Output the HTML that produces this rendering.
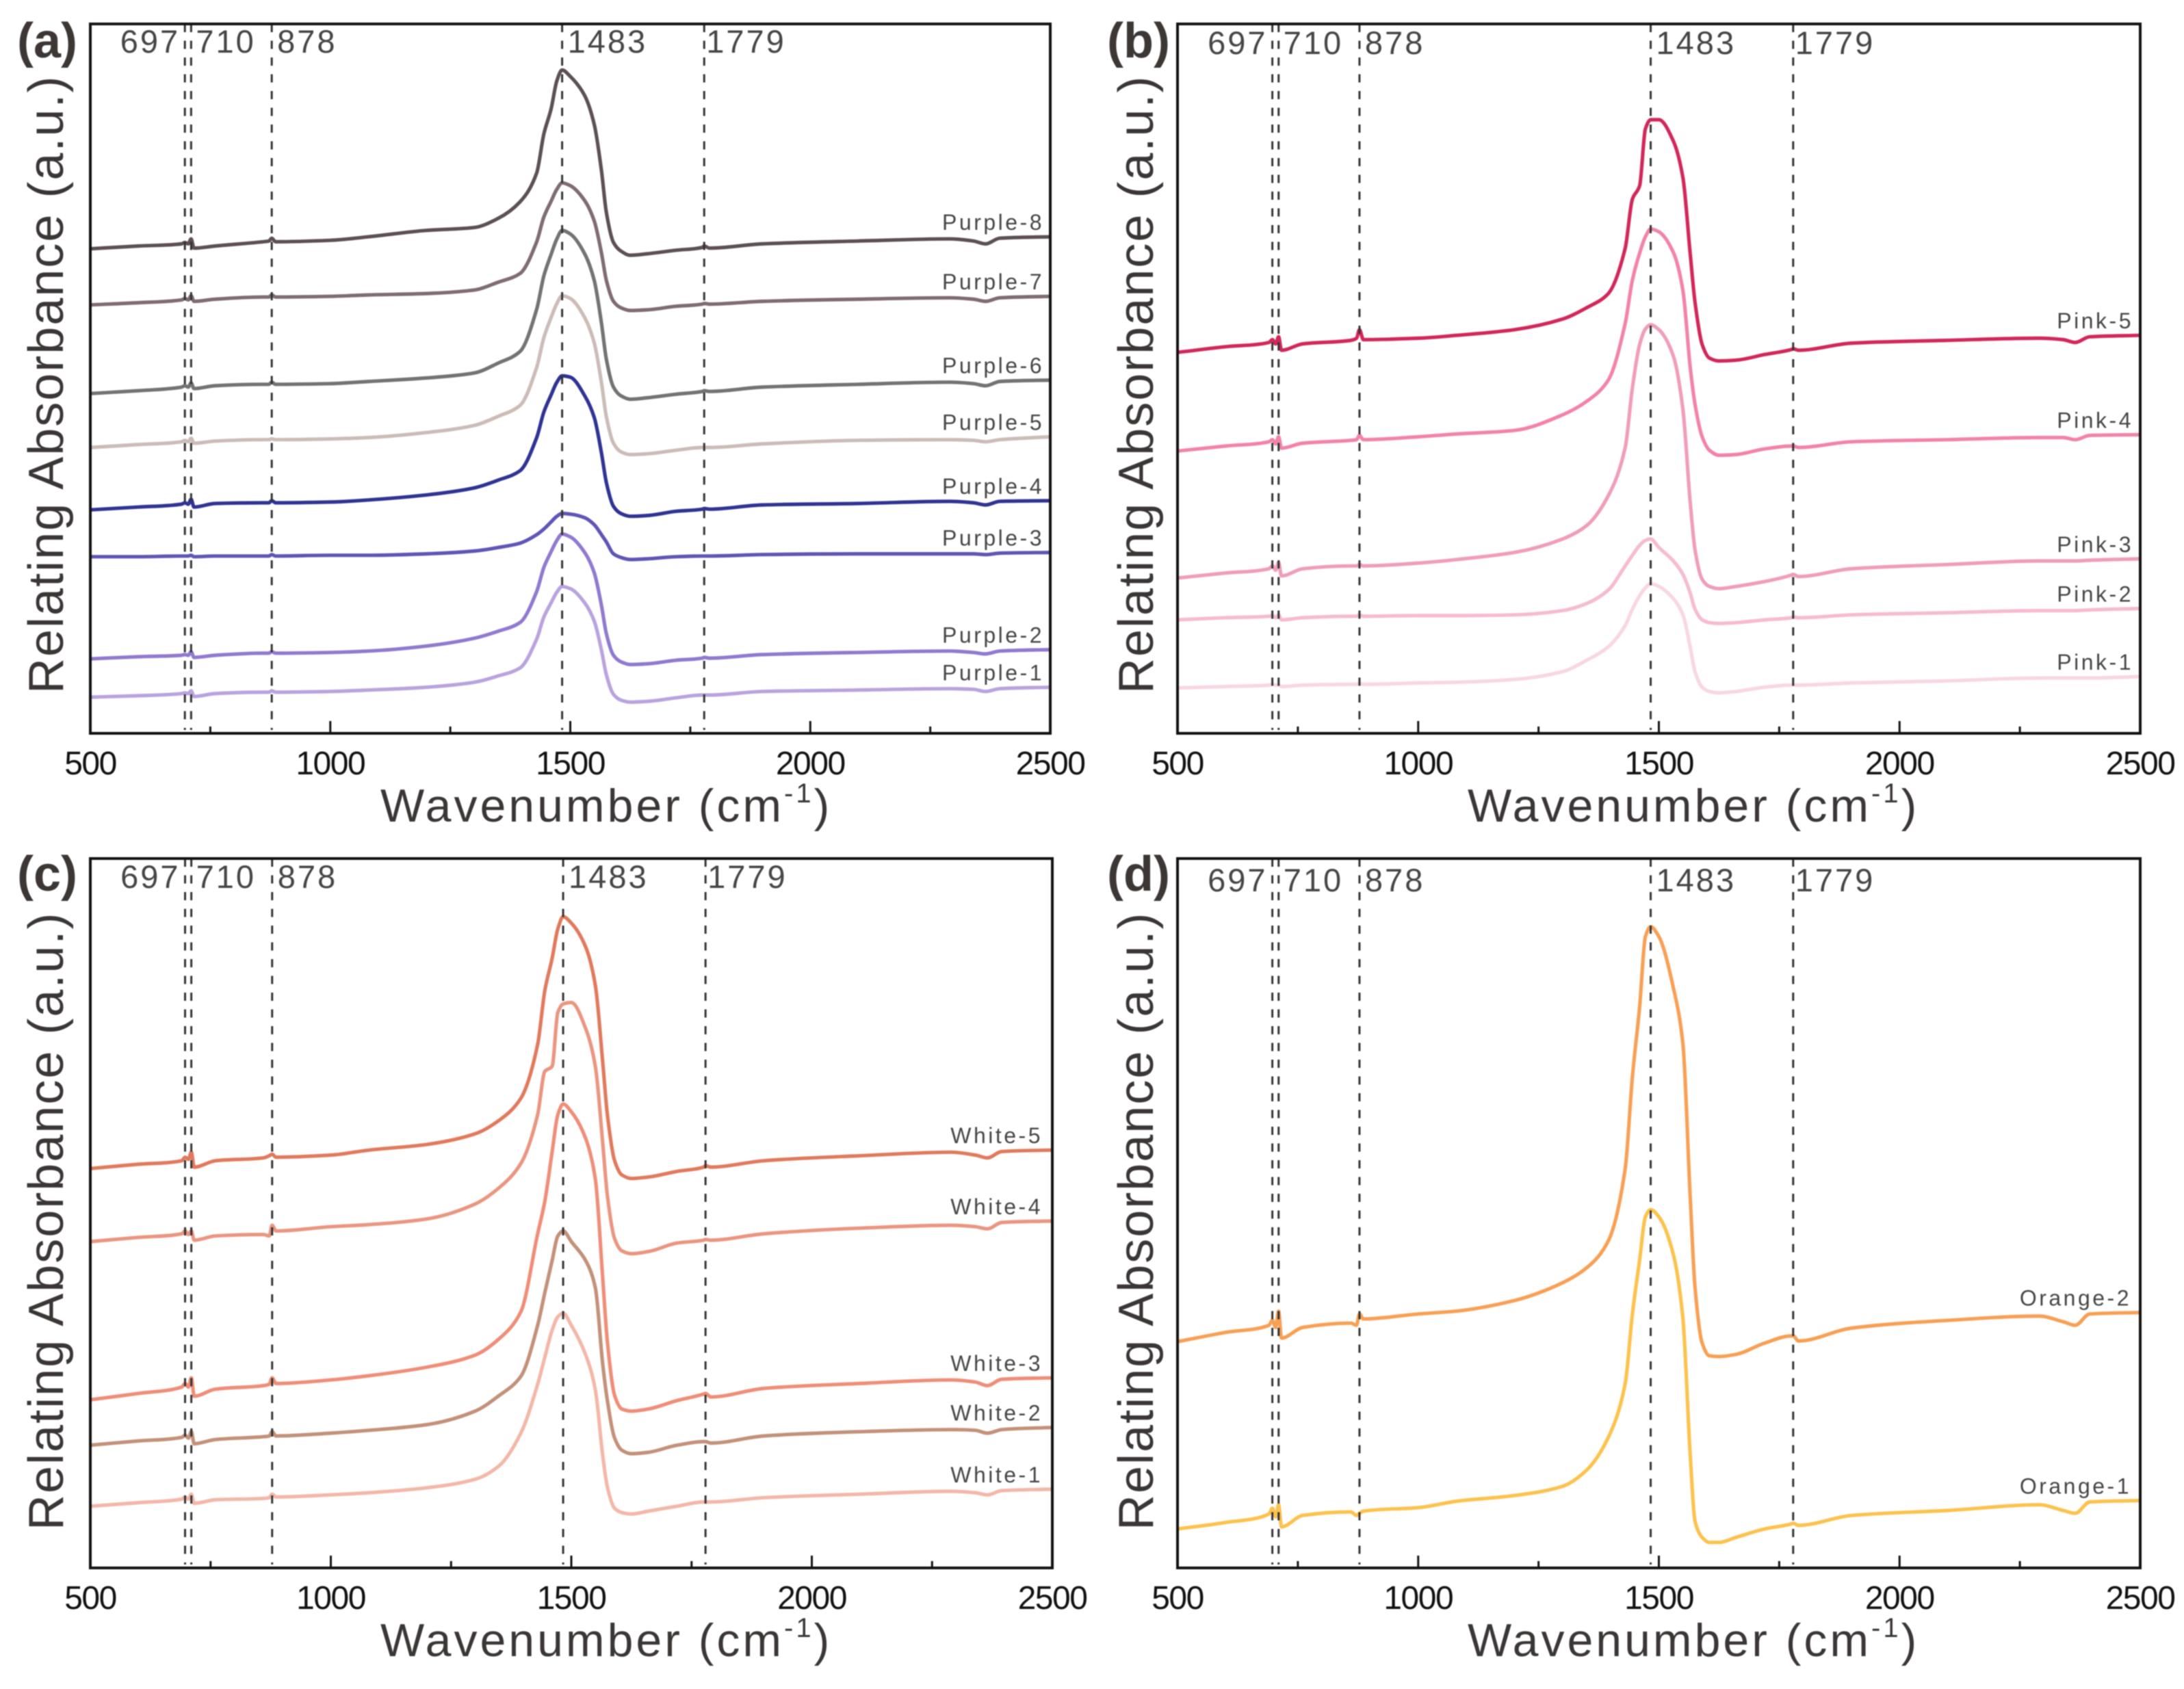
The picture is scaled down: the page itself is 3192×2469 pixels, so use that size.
<!DOCTYPE html>
<html lang="en">
<head>
<meta charset="utf-8">
<title>Relating absorbance spectra</title>
<style>
html,body{margin:0;padding:0;background:#fff;}
svg{display:block;filter:blur(0.7px);}
text{font-family:"Liberation Sans",sans-serif;}
</style>
</head>
<body>
<svg id="figure" xmlns="http://www.w3.org/2000/svg" width="3192" height="2469" viewBox="0 0 3192 2469">
<rect x="0" y="0" width="3192" height="2469" fill="#ffffff"></rect>
</svg>
<script>
const wavenumbers = [500,600,690,697,704,710,716,760,
 860,872,878,886,
 1000,1080,1200,1300,
 1350,1395,1430,1445,1460,1472,1483,
 1500,1530,1550,1565,1575,1590,1605,1625,
 1660,1720,1775,1779,1790,
 1900,2100,2290,2340,2365,2395,2500];

const purple8 = [68.3,68.7,69.0,69.2,69.0,69.7,68.4,68.7,
 69.3,69.4,69.8,69.3,
 69.5,70.0,70.9,71.3,
 72.6,74.9,79.0,84.5,88.0,92.0,93.5,
 92.6,89.9,85.8,79.3,73.5,69.2,68.0,67.4,
 67.6,68.1,68.5,68.7,68.4,
 69.0,69.4,69.7,69.4,69.0,69.8,70.0];
const purple7 = [60.4,60.7,61.1,61.3,61.1,61.7,60.9,61.2,
 61.5,61.5,61.8,61.5,
 61.6,61.8,62.0,62.5,
 63.6,64.8,69.3,72.8,75.0,76.7,77.6,
 77.2,75.1,72.2,67.7,63.9,60.9,60.0,59.6,
 59.7,60.2,60.5,60.6,60.5,
 60.9,61.2,61.4,61.2,60.9,61.4,61.6];
const purple6 = [47.9,48.3,48.8,49.0,48.8,49.4,48.6,49.0,
 49.2,49.2,49.5,49.2,
 49.3,49.6,50.1,50.8,
 52.2,53.8,59.8,64.5,67.5,69.7,70.9,
 70.4,67.6,63.8,57.8,52.8,48.8,47.6,47.1,
 47.3,47.8,48.2,48.3,48.2,
 48.8,49.2,49.5,49.3,49.0,49.6,49.8];
const purple5 = [40.3,40.7,41.1,41.3,41.1,41.6,40.9,41.2,
 41.4,41.4,41.5,41.4,
 41.5,41.7,42.4,43.4,
 44.7,46.2,51.6,55.8,58.6,60.6,61.7,
 61.3,58.6,55.0,49.4,44.7,40.9,39.7,39.3,
 39.4,39.9,40.3,40.3,40.3,
 40.8,41.3,41.4,41.3,41.1,41.4,41.8];
const purple4 = [31.5,31.9,32.3,32.5,32.3,33.0,31.9,32.4,
 32.5,32.5,32.8,32.5,
 32.6,32.9,33.6,34.6,
 35.7,37.0,41.7,45.3,47.7,49.5,50.4,
 50.2,47.6,44.5,39.5,35.4,32.0,31.0,30.6,
 30.7,31.3,31.6,31.7,31.6,
 32.2,32.4,32.7,32.5,32.2,32.7,32.8];
const purple3 = [24.9,24.9,25.0,25.0,25.0,25.1,24.9,25.0,
 25.0,25.0,25.2,25.0,
 25.1,25.1,25.3,25.7,
 26.2,26.8,28.0,28.8,29.8,30.6,31.0,
 30.9,30.4,29.4,28.0,27.0,25.3,24.8,24.5,
 24.6,24.9,25.0,25.0,25.0,
 25.2,25.3,25.3,25.3,25.2,25.4,25.5];
const purple2 = [10.5,10.8,11.0,11.1,11.0,11.5,10.7,11.0,
 11.3,11.3,11.5,11.3,
 11.4,11.6,12.3,13.4,
 14.4,15.6,20.0,23.4,25.6,27.2,28.1,
 27.7,25.5,22.6,18.0,14.1,11.0,10.1,9.7,
 9.8,10.3,10.6,10.7,10.6,
 11.1,11.4,11.6,11.4,11.2,11.6,11.8];
const purple1 = [5.1,5.3,5.6,5.7,5.6,6.0,5.2,5.6,
 5.8,5.8,6.0,5.8,
 5.9,6.1,6.5,7.2,
 8.1,9.2,13.3,16.4,18.4,19.9,20.7,
 20.4,18.4,15.8,11.7,8.3,5.5,4.7,4.4,
 4.5,5.0,5.4,5.4,5.4,
 5.9,6.1,6.3,6.2,5.9,6.3,6.5];

const pink5 = [53.7,54.5,55.1,55.5,54.9,55.9,54.0,54.9,
 55.4,55.7,56.9,55.5,
 55.7,56.1,56.9,58.4,
 60.0,62.0,68.4,75.3,77.2,85.2,86.5,
 86.5,83.5,78.3,67.7,60.8,54.8,52.9,52.5,
 52.6,53.4,54.1,54.2,54.0,
 55.0,55.4,55.7,55.5,55.1,55.9,56.1];
const pink4 = [39.8,40.5,41.1,41.4,40.8,41.8,40.2,40.9,
 41.3,41.4,42.0,41.4,
 41.8,42.2,42.7,44.9,
 46.8,49.8,57.8,63.9,67.7,70.0,71.1,
 70.7,67.8,62.4,51.7,46.4,41.8,39.9,39.2,
 39.3,40.1,40.5,40.5,40.3,
 41.1,41.4,41.7,41.7,41.4,42.0,42.1];
const pink3 = [21.9,22.6,23.2,23.6,23.0,24.1,22.2,23.2,
 23.6,23.6,23.8,23.6,
 24.0,24.5,25.5,27.4,
 29.3,33.5,40.3,48.7,54.8,57.0,57.6,
 56.9,53.2,45.6,32.7,25.9,21.7,20.7,20.4,
 20.7,21.4,22.3,22.4,22.1,
 23.2,23.8,24.3,24.3,24.3,24.4,24.6];
const pink2 = [16.0,16.3,16.5,16.6,16.3,16.7,16.0,16.3,
 16.5,16.5,16.7,16.5,
 16.6,16.6,16.7,17.3,
 18.3,20.2,23.6,25.1,26.5,27.2,27.4,
 26.2,24.3,22.4,19.8,17.5,16.0,15.6,15.5,
 15.6,16.0,16.3,16.4,16.3,
 16.7,17.0,17.3,17.3,17.3,17.4,17.6];
const pink1 = [6.4,6.6,6.8,6.9,6.8,6.8,6.6,6.8,
 6.9,6.9,7.0,6.9,
 7.1,7.2,7.6,8.7,
 10.3,12.2,15.2,17.5,19.4,20.5,21.1,
 20.7,19.0,16.7,12.2,8.7,6.5,5.9,5.7,
 5.9,6.5,6.8,6.8,6.8,
 7.1,7.4,7.8,7.8,7.8,7.8,8.0];

const white5 = [56.3,56.9,57.4,57.9,57.6,58.6,56.5,57.4,
 57.8,58.1,58.3,57.9,
 58.2,58.9,59.7,61.2,
 63.1,66.2,73.8,81.4,85.9,90.1,91.8,
 90.9,87.5,82.1,71.5,63.9,57.4,55.4,54.9,
 55.1,55.9,56.5,56.7,56.5,
 57.4,58.1,58.6,58.2,57.8,58.7,58.9];
const white4 = [46.0,46.6,47.1,47.5,47.0,47.5,46.2,46.8,
 47.0,46.8,48.3,47.5,
 48.1,48.4,49.2,51.3,
 53.6,57.0,63.9,70.0,70.7,78.3,79.5,
 79.7,76.0,70.7,60.1,52.5,46.4,44.7,44.3,
 44.6,45.8,46.2,46.3,46.2,
 47.1,47.9,48.3,48.1,47.8,48.7,48.9];
const white3 = [23.7,24.6,25.5,26.0,25.5,26.8,24.2,25.2,
 25.7,25.9,26.8,26.0,
 26.5,27.1,28.3,30.0,
 32.3,36.1,47.1,51.7,58.6,63.9,65.4,
 64.3,60.5,54.8,41.1,31.9,24.3,22.4,22.1,
 22.4,23.6,24.5,24.6,24.1,
 25.3,26.0,26.5,26.2,25.7,26.6,26.8];
const white2 = [17.3,17.9,18.4,18.7,18.3,19.2,17.5,18.1,
 18.5,18.6,19.2,18.6,
 19.0,19.4,20.2,22.1,
 24.3,27.0,34.2,38.8,43.3,46.8,47.5,
 46.0,43.3,39.5,28.9,23.6,18.3,16.6,16.1,
 16.3,17.3,17.8,17.8,17.6,
 18.6,19.2,19.5,19.4,19.0,19.5,19.8];
const white1 = [8.7,9.2,9.7,10.0,9.7,10.4,9.1,9.6,
 9.8,9.9,10.4,10.0,
 10.3,10.6,11.3,12.5,
 14.4,19.0,25.9,29.7,33.5,35.4,35.9,
 34.2,30.0,25.1,16.0,11.4,8.4,7.8,7.6,
 8.0,8.7,9.3,9.3,9.3,
 9.9,10.4,10.8,10.6,10.3,10.9,11.1];

const orange2 = [31.9,33.2,34.2,34.9,33.9,36.2,32.4,33.9,
 34.5,34.2,35.8,35.1,
 35.8,36.2,37.7,40.2,
 42.3,46.1,56.3,69.2,79.1,89.0,90.4,
 89.0,81.8,73.8,52.5,39.6,31.7,29.9,29.8,
 30.1,31.7,32.7,32.7,32.0,
 33.8,34.9,35.5,34.7,34.2,35.8,36.0];
const orange1 = [5.5,6.4,7.6,8.4,7.2,8.9,5.8,7.4,
 7.9,7.4,7.7,8.0,
 8.5,9.4,10.2,11.5,
 13.8,18.4,26.0,35.8,43.4,49.5,50.5,
 49.5,44.2,35.1,16.1,6.6,4.3,3.6,3.6,
 4.3,5.5,6.2,6.3,6.0,
 7.4,8.1,8.9,8.1,7.7,9.3,9.5];

const majorTicks = [500,1000,1500,2000,2500];
const minorTicks = [750,1250,1750,2250];
const tickLabels = ["500","1000","1500","2000","2500"];
const peakPositions = [697,710,878,1483,1779];
const peakLabels = ["697","710","878","1483","1779"];
const purpleNames = ["Purple-8","Purple-7","Purple-6","Purple-5","Purple-4","Purple-3","Purple-2","Purple-1"];
const pinkNames = ["Pink-5","Pink-4","Pink-3","Pink-2","Pink-1"];
const whiteNames = ["White-5","White-4","White-3","White-2","White-1"];
const orangeNames = ["Orange-2","Orange-1"];

const SVG_NS = "http://www.w3.org/2000/svg";
const figure = document.getElementById("figure");

function make(parent, tag, attrs, content) {
  const el = document.createElementNS(SVG_NS, tag);
  Object.keys(attrs).forEach(function (k) { el.setAttribute(k, attrs[k]); });
  if (content !== undefined) el.textContent = content;
  parent.appendChild(el);
  return el;
}
function slug(s) { return s.toLowerCase().replace(/[^a-z0-9]+/g, "-"); }

/* monotone cubic path through the mapped data points, so spikes do not overshoot */
function smoothPath(xs, ys) {
  const n = xs.length;
  const secant = [];
  for (let i = 0; i < n - 1; i++) secant.push((ys[i + 1] - ys[i]) / (xs[i + 1] - xs[i]));
  const tangent = [secant[0]];
  for (let i = 1; i < n - 1; i++) {
    if (secant[i - 1] * secant[i] <= 0) {
      tangent.push(0);
    } else {
      const h0 = xs[i] - xs[i - 1];
      const h1 = xs[i + 1] - xs[i];
      const w0 = 2 * h1 + h0;
      const w1 = h1 + 2 * h0;
      tangent.push((w0 + w1) / (w0 / secant[i - 1] + w1 / secant[i]));
    }
  }
  tangent.push(secant[n - 2]);
  let d = "M" + xs[0].toFixed(1) + " " + ys[0].toFixed(1);
  for (let i = 0; i < n - 1; i++) {
    const h = (xs[i + 1] - xs[i]) / 3;
    d += "C" + (xs[i] + h).toFixed(1) + " " + (ys[i] + tangent[i] * h).toFixed(1) + " " +
      (xs[i + 1] - h).toFixed(1) + " " + (ys[i + 1] - tangent[i + 1] * h).toFixed(1) + " " +
      xs[i + 1].toFixed(1) + " " + ys[i + 1].toFixed(1);
  }
  return d;
}

function drawPanel(p) {
  const xScale = function (w) { return p.left + (w - 500) / 2000 * (p.right - p.left); };
  const yScale = function (v) { return p.bottom - v / 100 * (p.bottom - p.top); };

  const g = make(figure, "g", {});
  
  

  p.series.forEach(function (values, i) {
    const d = smoothPath(wavenumbers.map(xScale), values.map(yScale));
    const line = make(g, "path", { d: d, fill: "none", stroke: p.colors[i], "stroke-width": 5.2, "stroke-linejoin": "round" });
    
    

    const label = make(g, "text", {
      x: p.right - p.labelInset,
      y: yScale(values[values.length - 1]) - 10,
      "text-anchor": "end",
      "font-size": 32,
      "letter-spacing": 3.5,
      fill: "#454545"
    }, p.names[i]);
    
    
  });

  peakPositions.forEach(function (w, i) {
    const x = xScale(w);
    const dash = make(g, "line", { x1: x, x2: x, y1: p.top, y2: p.bottom - 5, stroke: "#333333", "stroke-width": 3, "stroke-dasharray": "12 12.5" });
    
    

    const first = i === 0;
    const offset = first ? -7 : (i === 4 ? 3 : (i === 1 ? 7 : 8));
    const peak = make(g, "text", {
      x: x + offset,
      y: p.peakBaseline,
      "text-anchor": first ? "end" : "start",
      "font-size": 47,
      "letter-spacing": 3,
      fill: "#454545"
    }, peakLabels[i]);
    
    
  });

  const frame = make(g, "rect", { x: p.left, y: p.top, width: p.right - p.left, height: p.bottom - p.top, fill: "none", stroke: "#111111", "stroke-width": 4 });
  
  

  majorTicks.forEach(function (w, i) {
    const x = xScale(w);
    if (i > 0 && i < majorTicks.length - 1) {
      const tick = make(g, "line", { x1: x, x2: x, y1: p.bottom, y2: p.bottom - 18, stroke: "#111111", "stroke-width": 3 });
      
      
    }
    const lab = make(g, "text", { x: x, y: p.bottom + 60, "text-anchor": "middle", "font-size": 48, "letter-spacing": -1.5, fill: "#111111" }, tickLabels[i]);
    
    
  });
  minorTicks.forEach(function (w) {
    const x = xScale(w);
    const tick = make(g, "line", { x1: x, x2: x, y1: p.bottom, y2: p.bottom - 10, stroke: "#111111", "stroke-width": 3 });
    
    
  });

  const xTitle = make(g, "text", { x: p.left + 424, y: p.bottom + 129, "font-size": 68, "letter-spacing": 4, fill: "#3a3635" });
  
  
  make(xTitle, "tspan", {}, "Wavenumber (cm");
  make(xTitle, "tspan", { dy: -28, "font-size": 40 }, "-1");
  make(xTitle, "tspan", { dy: 28 }, ")");

  const yx = p.left - p.yTitleInset;
  const yy = p.bottom - p.yTitleStart;
  const yTitle = make(g, "text", { transform: "translate(" + yx + " " + yy + ") rotate(-90)", x: 0, y: 0, "font-size": 72, "letter-spacing": 2, fill: "#3a3635" }, "Relating Absorbance (a.u.)");
  
  

  const letter = make(g, "text", { x: p.letterX, y: p.letterY, "font-size": 72, "font-weight": "bold", fill: "#3c3735" }, "(" + p.id + ")");
  
  
}

drawPanel({ id: "a", left: 132, right: 1535, top: 35, bottom: 1072, peakBaseline: 77, labelInset: 9, yTitleInset: 40, yTitleStart: 58, letterX: 25, letterY: 84,
  series: [purple8, purple7, purple6, purple5, purple4, purple3, purple2, purple1], names: purpleNames,
  colors: ["#5c4f55", "#7f6b73", "#737373", "#ccbcb8", "#2f3391", "#5f55b5", "#9079cf", "#b9a3de"] });
drawPanel({ id: "b", left: 1721, right: 3128, top: 35, bottom: 1072, peakBaseline: 79, labelInset: 10, yTitleInset: 36, yTitleStart: 58, letterX: 1618, letterY: 84,
  series: [pink5, pink4, pink3, pink2, pink1], names: pinkNames,
  colors: ["#d0285a", "#f283a8", "#f09db8", "#f6bccd", "#f9d6e4"] });
drawPanel({ id: "c", left: 132, right: 1538, top: 1255, bottom: 2292, peakBaseline: 1298, labelInset: 14, yTitleInset: 40, yTitleStart: 55, letterX: 25, letterY: 1302,
  series: [white5, white4, white3, white2, white1], names: whiteNames,
  colors: ["#e07a5c", "#e99680", "#ee8e78", "#c39179", "#f3b7a8"] });
drawPanel({ id: "d", left: 1721, right: 3128, top: 1255, bottom: 2292, peakBaseline: 1303, labelInset: 13, yTitleInset: 36, yTitleStart: 55, letterX: 1618, letterY: 1302,
  series: [orange2, orange1], names: orangeNames,
  colors: ["#f7a055", "#fcc24e"] });
</script>
</body>
</html>
